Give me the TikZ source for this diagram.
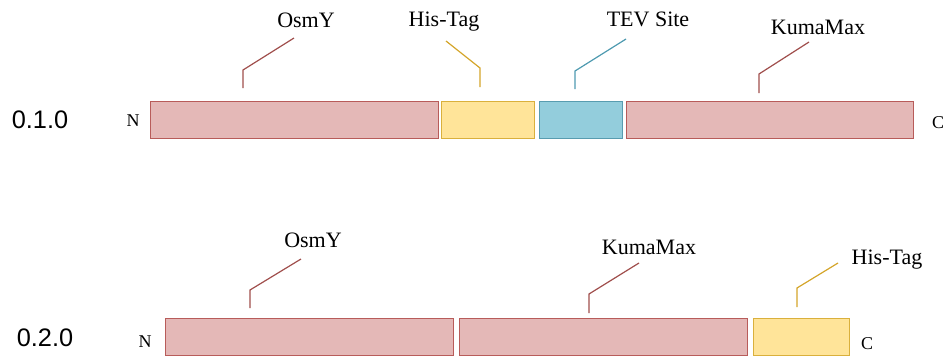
\documentclass[tikz,border=0pt]{standalone}
\usepackage{fontspec}
\setmainfont{Liberation Serif}
\newfontfamily\versfont{Liberation Sans}
\definecolor{osmfill}{RGB}{228,184,183}
\definecolor{osmdraw}{RGB}{184,92,90}
\definecolor{osmline}{RGB}{160,78,76}
\definecolor{hisfill}{RGB}{255,228,153}
\definecolor{hisdraw}{RGB}{218,176,60}
\definecolor{hisline}{RGB}{212,165,42}
\definecolor{tevfill}{RGB}{147,205,220}
\definecolor{tevdraw}{RGB}{88,156,176}
\definecolor{tevline}{RGB}{78,154,176}
\tikzset{
  osmbox/.style={draw=osmdraw, fill=osmfill, line width=0.7pt},
  hisbox/.style={draw=hisdraw, fill=hisfill, line width=0.7pt},
  tevbox/.style={draw=tevdraw, fill=tevfill, line width=0.7pt},
  partlabel/.style={font=\fontsize{16.5}{18}\selectfont, inner sep=1pt},
  endlabel/.style={font=\fontsize{13.5}{15}\selectfont, inner sep=1pt},
  verlabel/.style={font=\versfont\fontsize{19}{21}\selectfont, inner sep=1pt}
}
\begin{document}
\begin{tikzpicture}[x=0.75pt,y=0.75pt,yscale=-1,xscale=1]
\useasboundingbox (0,0) rectangle (947,358);

%Shape: Rectangle [OsmY, 0.1.0]
\draw [osmbox] (150,101) -- (438,101) -- (438,138) -- (150,138) -- cycle ;
%Shape: Rectangle [His-Tag, 0.1.0]
\draw [hisbox] (441,101) -- (534,101) -- (534,138) -- (441,138) -- cycle ;
%Shape: Rectangle [TEV Site, 0.1.0]
\draw [tevbox] (539,101) -- (622,101) -- (622,138) -- (539,138) -- cycle ;
%Shape: Rectangle [KumaMax, 0.1.0]
\draw [osmbox] (626,101) -- (913,101) -- (913,138) -- (626,138) -- cycle ;

%Shape: Rectangle [OsmY, 0.2.0]
\draw [osmbox] (165,318) -- (453,318) -- (453,355) -- (165,355) -- cycle ;
%Shape: Rectangle [KumaMax, 0.2.0]
\draw [osmbox] (459,318) -- (747,318) -- (747,355) -- (459,355) -- cycle ;
%Shape: Rectangle [His-Tag, 0.2.0]
\draw [hisbox] (753,318) -- (849,318) -- (849,355) -- (753,355) -- cycle ;

% Text Node
\node [verlabel] (verA) at (40,120) {0.1.0};
\node [verlabel] (verB) at (45,338) {0.2.0};
% Text Node
\node [endlabel] (nA) at (133,121) {N};
\node [endlabel] (cA) at (938,123) {C};
\node [endlabel] (nB) at (145,342) {N};
\node [endlabel] (cB) at (867,344) {C};

% Text Node
\node [partlabel] (osmA) at (306,20) {OsmY};
\node [partlabel] (hisA) at (444,22) {His-Tag};
\node [partlabel] (tevA) at (648,19) {TEV Site};
\node [partlabel] (kumA) at (818,27) {KumaMax};
\node [partlabel] (osmB) at (313,240) {OsmY};
\node [partlabel] (kumB) at (649,247) {KumaMax};
\node [partlabel] (hisB) at (887,260) {His-Tag};

% callout ends
\coordinate (osmAp) at (243,88);
\coordinate (osmAq) at (294,38);
\coordinate (hisAp) at (480,87);
\coordinate (hisAq) at (446,41);
\coordinate (tevAp) at (575,89);
\coordinate (tevAq) at (626,39);
\coordinate (kumAp) at (759,93);
\coordinate (kumAq) at (809,42);
\coordinate (osmBp) at (250,308);
\coordinate (osmBq) at (301,259);
\coordinate (kumBp) at (589,313);
\coordinate (kumBq) at (639,263);
\coordinate (hisBp) at (797,307);
\coordinate (hisBq) at (838,263);

%Straight Lines [callouts]
\draw [osmline, line width=0.9pt] (osmAp) -- ++(0,-18) -- (osmAq) ;
\draw [hisline, line width=0.9pt] (hisAp) -- ++(0,-19) -- (hisAq) ;
\draw [tevline, line width=0.9pt] (tevAp) -- ++(0,-18) -- (tevAq) ;
\draw [osmline, line width=0.9pt] (kumAp) -- ++(0,-19) -- (kumAq) ;
\draw [osmline, line width=0.9pt] (osmBp) -- ++(0,-18) -- (osmBq) ;
\draw [osmline, line width=0.9pt] (kumBp) -- ++(0,-19) -- (kumBq) ;
\draw [hisline, line width=0.9pt] (hisBp) -- ++(0,-19) -- (hisBq) ;

\end{tikzpicture}
\end{document}
